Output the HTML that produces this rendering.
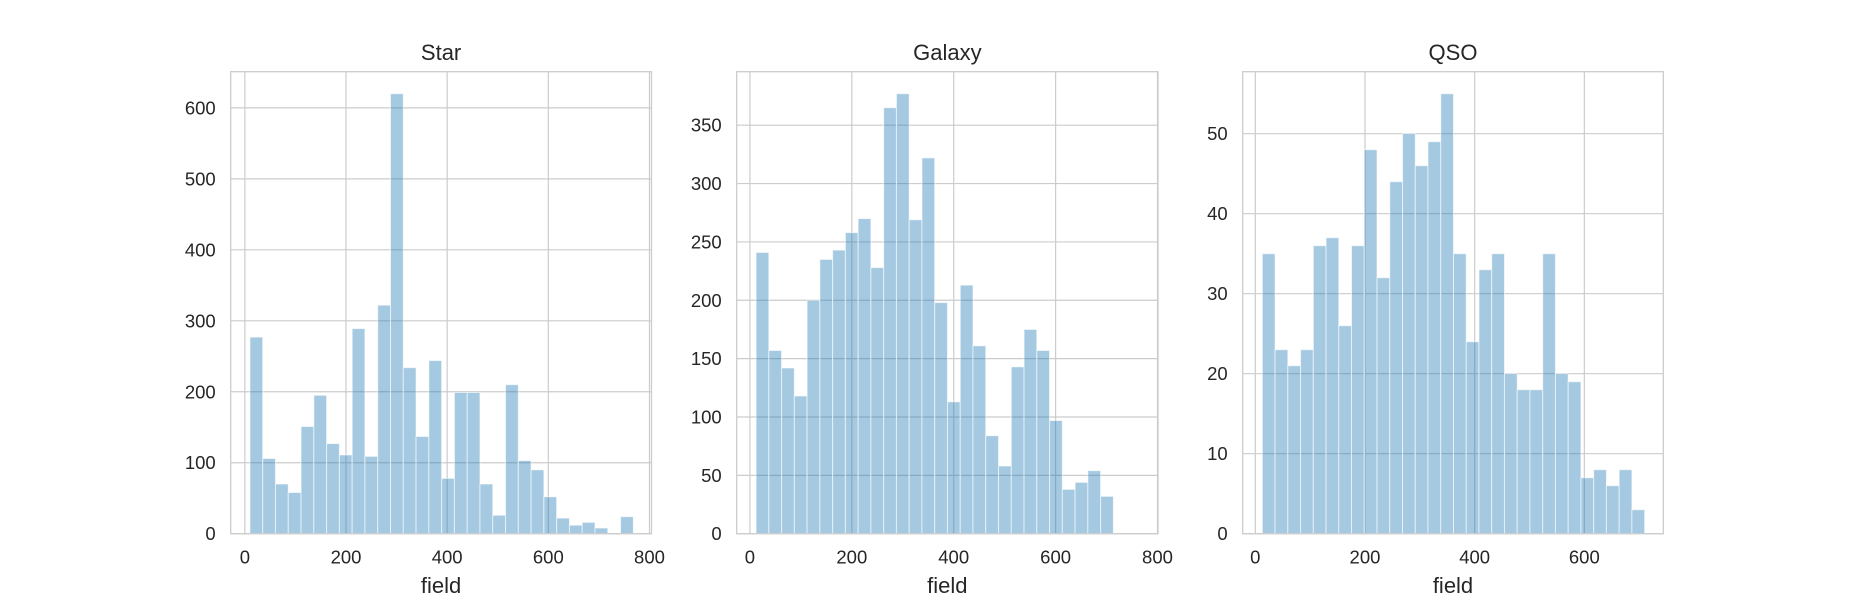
<!DOCTYPE html>
<html><head><meta charset="utf-8"><style>
html,body{margin:0;padding:0;background:#fff;}
svg{display:block;font-family:"Liberation Sans",Arial,sans-serif;}
</style></head><body>
<svg id="chart" width="1849" height="600" viewBox="0 0 1849 600" xmlns="http://www.w3.org/2000/svg"></svg>
<script>
const panelTitles = ["Star", "Galaxy", "QSO"];
const starCounts = [277,106,70,58,151,195,127,111,289,109,322,620,234,137,244,78,199,199,70,26,210,103,90,52,22,12,16,8,0,24];
const galaxyCounts = [241,157,142,118,200,235,243,258,270,228,365,377,269,322,198,113,213,161,84,58,143,175,157,97,38,44,54,32];
const qsoCounts = [35,23,21,23,36,37,26,36,48,32,44,50,46,49,55,35,24,33,35,20,18,18,35,20,19,7,8,6,8,3];
const starXTicks = [0,200,400,600,800];
const galaxyXTicks = [0,200,400,600,800];
const qsoXTicks = [0,200,400,600];
const starYTicks = [0,100,200,300,400,500,600];
const galaxyYTicks = [0,50,100,150,200,250,300,350];
const qsoYTicks = [0,10,20,30,40,50];
const binStarts = [10, 12, 12.8];
const binWidths = [25.27, 25.05, 23.24];
const xLimits = [[-28,804],[-26,801],[-23,744]];

const svgEl = document.getElementById('chart');
const NS = 'http://www.w3.org/2000/svg';
function mk(tag, attrs, parent){const e=document.createElementNS(NS,tag);for(const k in attrs)e.setAttribute(k,attrs[k]);(parent||svgEl).appendChild(e);return e;}

const panels = [
  {left:230.7, right:651.5, counts:starCounts, xt:starXTicks, yt:starYTicks, key:'star'},
  {left:736.7, right:1158, counts:galaxyCounts, xt:galaxyXTicks, yt:galaxyYTicks, key:'galaxy'},
  {left:1242.7, right:1663.3, counts:qsoCounts, xt:qsoXTicks, yt:qsoYTicks, key:'qso'}
];
const axTop = 71.7, axBottom = 533.7;

panels.forEach((p, i) => {
  const g = mk('g', {});
  
  
  const x0 = xLimits[i][0], x1 = xLimits[i][1];
  const ymax = Math.max(...p.counts) * 1.05;
  const xs = v => p.left + (v - x0) / (x1 - x0) * (p.right - p.left);
  const ys = v => axBottom - v / ymax * (axBottom - axTop);
  p.yt.forEach(t => {
    const l = mk('line', {x1:p.left, x2:p.right, y1:ys(t), y2:ys(t), stroke:'#cccccc', 'stroke-width':1.2}, g);
    
    
    const tx = mk('text', {x:p.left-15, y:ys(t)+6.5, 'text-anchor':'end', 'font-size':18.5, fill:'#262626'}, g);
    tx.textContent = t;
    
    
  });
  p.xt.forEach(t => {
    const l = mk('line', {x1:xs(t), x2:xs(t), y1:axTop, y2:axBottom, stroke:'#cccccc', 'stroke-width':1.2}, g);
    
    
    const tx = mk('text', {x:xs(t), y:563.5, 'text-anchor':'middle', 'font-size':18.5, fill:'#262626'}, g);
    tx.textContent = t;
    
    
  });
  p.counts.forEach((c, k) => {
    if (c <= 0) return;
    const a = binStarts[i] + k * binWidths[i];
    const b = a + binWidths[i];
    const r = mk('rect', {x:xs(a), y:ys(c), width:xs(b)-xs(a), height:axBottom-ys(c), fill:'#1f77b4', 'fill-opacity':0.4, stroke:'#ffffff', 'stroke-opacity':0.6, 'stroke-width':1}, g);
    
    
  });
  const f = mk('rect', {x:p.left, y:axTop, width:p.right-p.left, height:axBottom-axTop, fill:'none', stroke:'#cccccc', 'stroke-width':1.3}, g);
  
  
  const ti = mk('text', {x:(p.left+p.right)/2, y:60, 'text-anchor':'middle', 'font-size':22, fill:'#262626'}, g);
  ti.textContent = panelTitles[i];
  
  
  const xl = mk('text', {x:(p.left+p.right)/2, y:593, 'text-anchor':'middle', 'font-size':22, fill:'#262626'}, g);
  xl.textContent = 'field';
  
  
});
</script>
</body></html>
